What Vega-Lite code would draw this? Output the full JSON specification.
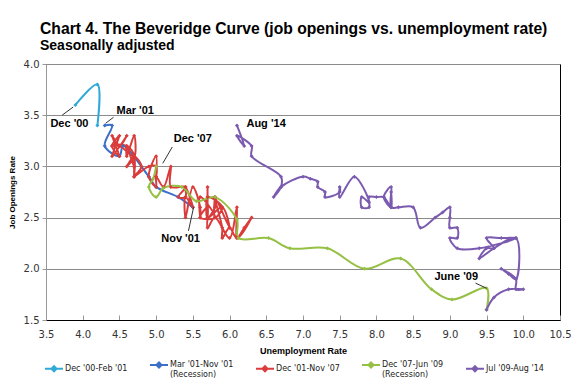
{
  "$schema": "https://vega.github.io/schema/vega-lite/v6.json",
  "width": 514,
  "height": 256,
  "autosize": {"type": "none"},
  "padding": {"left": 46, "top": 64, "right": 15, "bottom": 71},
  "background": "white",
  "title": {
    "text": "Chart 4. The Beveridge Curve (job openings vs. unemployment rate)",
    "subtitle": "Seasonally adjusted",
    "anchor": "start",
    "frame": "group",
    "font": "Liberation Sans",
    "fontSize": 15.7,
    "fontWeight": "bold",
    "color": "#000",
    "subtitleFont": "Liberation Sans",
    "subtitleFontSize": 14,
    "subtitleFontWeight": "bold",
    "subtitleColor": "#000",
    "subtitlePadding": 1,
    "dx": -6,
    "offset": 5
  },
  "config": {
    "view": {"stroke": "#000", "strokeWidth": 1}
  },
  "datasets": {
    "jolts": [
      {"s": "Dec '00-Feb '01", "i": 1, "u": 3.9, "j": 3.6},
      {"s": "Dec '00-Feb '01", "i": 2, "u": 4.2, "j": 3.8},
      {"s": "Dec '00-Feb '01", "i": 3, "u": 4.2, "j": 3.4},
      {"s": "Mar '01-Nov '01", "i": 4, "u": 4.3, "j": 3.4},
      {"s": "Mar '01-Nov '01", "i": 5, "u": 4.4, "j": 3.4},
      {"s": "Mar '01-Nov '01", "i": 6, "u": 4.3, "j": 3.2},
      {"s": "Mar '01-Nov '01", "i": 7, "u": 4.5, "j": 3.1},
      {"s": "Mar '01-Nov '01", "i": 8, "u": 4.55, "j": 3.2},
      {"s": "Mar '01-Nov '01", "i": 9, "u": 4.9, "j": 2.9},
      {"s": "Mar '01-Nov '01", "i": 10, "u": 5.0, "j": 2.8},
      {"s": "Mar '01-Nov '01", "i": 11, "u": 5.3, "j": 2.7},
      {"s": "Mar '01-Nov '01", "i": 12, "u": 5.5, "j": 2.6},
      {"s": "Dec '01-Nov '07", "i": 13, "u": 5.7, "j": 2.6},
      {"s": "Dec '01-Nov '07", "i": 14, "u": 5.7, "j": 2.8},
      {"s": "Dec '01-Nov '07", "i": 15, "u": 5.7, "j": 2.5},
      {"s": "Dec '01-Nov '07", "i": 16, "u": 5.7, "j": 2.7},
      {"s": "Dec '01-Nov '07", "i": 17, "u": 5.9, "j": 2.6},
      {"s": "Dec '01-Nov '07", "i": 18, "u": 5.8, "j": 2.5},
      {"s": "Dec '01-Nov '07", "i": 19, "u": 5.8, "j": 2.7},
      {"s": "Dec '01-Nov '07", "i": 20, "u": 5.8, "j": 2.6},
      {"s": "Dec '01-Nov '07", "i": 21, "u": 5.7, "j": 2.5},
      {"s": "Dec '01-Nov '07", "i": 22, "u": 5.7, "j": 2.7},
      {"s": "Dec '01-Nov '07", "i": 23, "u": 5.7, "j": 2.5},
      {"s": "Dec '01-Nov '07", "i": 24, "u": 5.9, "j": 2.6},
      {"s": "Dec '01-Nov '07", "i": 25, "u": 6.0, "j": 2.4},
      {"s": "Dec '01-Nov '07", "i": 26, "u": 5.8, "j": 2.7},
      {"s": "Dec '01-Nov '07", "i": 27, "u": 5.9, "j": 2.4},
      {"s": "Dec '01-Nov '07", "i": 28, "u": 5.9, "j": 2.3},
      {"s": "Dec '01-Nov '07", "i": 29, "u": 6.0, "j": 2.4},
      {"s": "Dec '01-Nov '07", "i": 30, "u": 6.1, "j": 2.3},
      {"s": "Dec '01-Nov '07", "i": 31, "u": 6.3, "j": 2.5},
      {"s": "Dec '01-Nov '07", "i": 32, "u": 6.2, "j": 2.4},
      {"s": "Dec '01-Nov '07", "i": 33, "u": 6.1, "j": 2.3},
      {"s": "Dec '01-Nov '07", "i": 34, "u": 6.1, "j": 2.6},
      {"s": "Dec '01-Nov '07", "i": 35, "u": 6.0, "j": 2.3},
      {"s": "Dec '01-Nov '07", "i": 36, "u": 5.8, "j": 2.5},
      {"s": "Dec '01-Nov '07", "i": 37, "u": 5.7, "j": 2.4},
      {"s": "Dec '01-Nov '07", "i": 38, "u": 5.7, "j": 2.6},
      {"s": "Dec '01-Nov '07", "i": 39, "u": 5.6, "j": 2.5},
      {"s": "Dec '01-Nov '07", "i": 40, "u": 5.8, "j": 2.5},
      {"s": "Dec '01-Nov '07", "i": 41, "u": 5.6, "j": 2.7},
      {"s": "Dec '01-Nov '07", "i": 42, "u": 5.6, "j": 2.5},
      {"s": "Dec '01-Nov '07", "i": 43, "u": 5.6, "j": 2.6},
      {"s": "Dec '01-Nov '07", "i": 44, "u": 5.5, "j": 2.8},
      {"s": "Dec '01-Nov '07", "i": 45, "u": 5.4, "j": 2.5},
      {"s": "Dec '01-Nov '07", "i": 46, "u": 5.4, "j": 2.7},
      {"s": "Dec '01-Nov '07", "i": 47, "u": 5.5, "j": 2.6},
      {"s": "Dec '01-Nov '07", "i": 48, "u": 5.4, "j": 2.8},
      {"s": "Dec '01-Nov '07", "i": 49, "u": 5.4, "j": 2.7},
      {"s": "Dec '01-Nov '07", "i": 50, "u": 5.3, "j": 2.7},
      {"s": "Dec '01-Nov '07", "i": 51, "u": 5.4, "j": 2.8},
      {"s": "Dec '01-Nov '07", "i": 52, "u": 5.2, "j": 2.8},
      {"s": "Dec '01-Nov '07", "i": 53, "u": 5.2, "j": 3.0},
      {"s": "Dec '01-Nov '07", "i": 54, "u": 5.1, "j": 2.8},
      {"s": "Dec '01-Nov '07", "i": 55, "u": 5.0, "j": 2.9},
      {"s": "Dec '01-Nov '07", "i": 56, "u": 5.0, "j": 2.8},
      {"s": "Dec '01-Nov '07", "i": 57, "u": 4.9, "j": 2.9},
      {"s": "Dec '01-Nov '07", "i": 58, "u": 5.0, "j": 3.1},
      {"s": "Dec '01-Nov '07", "i": 59, "u": 5.0, "j": 2.9},
      {"s": "Dec '01-Nov '07", "i": 60, "u": 5.0, "j": 3.0},
      {"s": "Dec '01-Nov '07", "i": 61, "u": 4.9, "j": 3.0},
      {"s": "Dec '01-Nov '07", "i": 62, "u": 4.7, "j": 2.9},
      {"s": "Dec '01-Nov '07", "i": 63, "u": 4.8, "j": 3.0},
      {"s": "Dec '01-Nov '07", "i": 64, "u": 4.7, "j": 3.1},
      {"s": "Dec '01-Nov '07", "i": 65, "u": 4.7, "j": 3.0},
      {"s": "Dec '01-Nov '07", "i": 66, "u": 4.6, "j": 3.2},
      {"s": "Dec '01-Nov '07", "i": 67, "u": 4.6, "j": 3.1},
      {"s": "Dec '01-Nov '07", "i": 68, "u": 4.7, "j": 3.3},
      {"s": "Dec '01-Nov '07", "i": 69, "u": 4.7, "j": 3.1},
      {"s": "Dec '01-Nov '07", "i": 70, "u": 4.5, "j": 3.2},
      {"s": "Dec '01-Nov '07", "i": 71, "u": 4.4, "j": 3.2},
      {"s": "Dec '01-Nov '07", "i": 72, "u": 4.5, "j": 3.3},
      {"s": "Dec '01-Nov '07", "i": 73, "u": 4.4, "j": 3.1},
      {"s": "Dec '01-Nov '07", "i": 74, "u": 4.6, "j": 3.3},
      {"s": "Dec '01-Nov '07", "i": 75, "u": 4.5, "j": 3.2},
      {"s": "Dec '01-Nov '07", "i": 76, "u": 4.4, "j": 3.3},
      {"s": "Dec '01-Nov '07", "i": 77, "u": 4.5, "j": 3.1},
      {"s": "Dec '01-Nov '07", "i": 78, "u": 4.4, "j": 3.2},
      {"s": "Dec '01-Nov '07", "i": 79, "u": 4.6, "j": 3.2},
      {"s": "Dec '01-Nov '07", "i": 80, "u": 4.7, "j": 3.1},
      {"s": "Dec '01-Nov '07", "i": 81, "u": 4.6, "j": 3.0},
      {"s": "Dec '01-Nov '07", "i": 82, "u": 4.7, "j": 3.1},
      {"s": "Dec '01-Nov '07", "i": 83, "u": 4.7, "j": 2.9},
      {"s": "Dec '01-Nov '07", "i": 84, "u": 4.7, "j": 3.0},
      {"s": "Dec '07-Jun '09", "i": 85, "u": 5.0, "j": 3.0},
      {"s": "Dec '07-Jun '09", "i": 86, "u": 4.96, "j": 2.88},
      {"s": "Dec '07-Jun '09", "i": 87, "u": 4.9, "j": 2.8},
      {"s": "Dec '07-Jun '09", "i": 88, "u": 5.0, "j": 2.7},
      {"s": "Dec '07-Jun '09", "i": 89, "u": 5.1, "j": 2.79},
      {"s": "Dec '07-Jun '09", "i": 90, "u": 5.35, "j": 2.8},
      {"s": "Dec '07-Jun '09", "i": 91, "u": 5.55, "j": 2.66},
      {"s": "Dec '07-Jun '09", "i": 92, "u": 5.8, "j": 2.7},
      {"s": "Dec '07-Jun '09", "i": 93, "u": 6.1, "j": 2.48},
      {"s": "Dec '07-Jun '09", "i": 94, "u": 6.12, "j": 2.3},
      {"s": "Dec '07-Jun '09", "i": 95, "u": 6.53, "j": 2.3},
      {"s": "Dec '07-Jun '09", "i": 96, "u": 6.82, "j": 2.2},
      {"s": "Dec '07-Jun '09", "i": 97, "u": 7.33, "j": 2.2},
      {"s": "Dec '07-Jun '09", "i": 98, "u": 7.84, "j": 2.0},
      {"s": "Dec '07-Jun '09", "i": 99, "u": 8.33, "j": 2.1},
      {"s": "Dec '07-Jun '09", "i": 100, "u": 8.75, "j": 1.8},
      {"s": "Dec '07-Jun '09", "i": 101, "u": 9.03, "j": 1.7},
      {"s": "Dec '07-Jun '09", "i": 102, "u": 9.5, "j": 1.81},
      {"s": "Dec '07-Jun '09", "i": 103, "u": 9.5, "j": 1.6},
      {"s": "Jul '09-Aug '14", "i": 104, "u": 9.5, "j": 1.6},
      {"s": "Jul '09-Aug '14", "i": 105, "u": 9.6, "j": 1.72},
      {"s": "Jul '09-Aug '14", "i": 106, "u": 9.8, "j": 1.8},
      {"s": "Jul '09-Aug '14", "i": 107, "u": 10.0, "j": 1.8},
      {"s": "Jul '09-Aug '14", "i": 108, "u": 9.9, "j": 1.8},
      {"s": "Jul '09-Aug '14", "i": 109, "u": 9.9, "j": 1.9},
      {"s": "Jul '09-Aug '14", "i": 110, "u": 9.7, "j": 2.0},
      {"s": "Jul '09-Aug '14", "i": 111, "u": 9.8, "j": 1.95},
      {"s": "Jul '09-Aug '14", "i": 112, "u": 9.9, "j": 1.9},
      {"s": "Jul '09-Aug '14", "i": 113, "u": 9.9, "j": 2.3},
      {"s": "Jul '09-Aug '14", "i": 114, "u": 9.6, "j": 2.2},
      {"s": "Jul '09-Aug '14", "i": 115, "u": 9.4, "j": 2.1},
      {"s": "Jul '09-Aug '14", "i": 116, "u": 9.5, "j": 2.2},
      {"s": "Jul '09-Aug '14", "i": 117, "u": 9.6, "j": 2.2},
      {"s": "Jul '09-Aug '14", "i": 118, "u": 9.5, "j": 2.3},
      {"s": "Jul '09-Aug '14", "i": 119, "u": 9.7, "j": 2.3},
      {"s": "Jul '09-Aug '14", "i": 120, "u": 9.9, "j": 2.3},
      {"s": "Jul '09-Aug '14", "i": 121, "u": 9.4, "j": 2.2},
      {"s": "Jul '09-Aug '14", "i": 122, "u": 9.1, "j": 2.2},
      {"s": "Jul '09-Aug '14", "i": 123, "u": 9.0, "j": 2.3},
      {"s": "Jul '09-Aug '14", "i": 124, "u": 9.1, "j": 2.3},
      {"s": "Jul '09-Aug '14", "i": 125, "u": 9.1, "j": 2.4},
      {"s": "Jul '09-Aug '14", "i": 126, "u": 9.0, "j": 2.4},
      {"s": "Jul '09-Aug '14", "i": 127, "u": 9.0, "j": 2.5},
      {"s": "Jul '09-Aug '14", "i": 128, "u": 9.0, "j": 2.6},
      {"s": "Jul '09-Aug '14", "i": 129, "u": 8.9, "j": 2.55},
      {"s": "Jul '09-Aug '14", "i": 130, "u": 8.8, "j": 2.5},
      {"s": "Jul '09-Aug '14", "i": 131, "u": 8.6, "j": 2.4},
      {"s": "Jul '09-Aug '14", "i": 132, "u": 8.5, "j": 2.6},
      {"s": "Jul '09-Aug '14", "i": 133, "u": 8.3, "j": 2.6},
      {"s": "Jul '09-Aug '14", "i": 134, "u": 8.2, "j": 2.6},
      {"s": "Jul '09-Aug '14", "i": 135, "u": 8.2, "j": 2.8},
      {"s": "Jul '09-Aug '14", "i": 136, "u": 8.1, "j": 2.7},
      {"s": "Jul '09-Aug '14", "i": 137, "u": 8.2, "j": 2.6},
      {"s": "Jul '09-Aug '14", "i": 138, "u": 8.2, "j": 2.75},
      {"s": "Jul '09-Aug '14", "i": 139, "u": 8.2, "j": 2.6},
      {"s": "Jul '09-Aug '14", "i": 140, "u": 8.1, "j": 2.7},
      {"s": "Jul '09-Aug '14", "i": 141, "u": 8.0, "j": 2.7},
      {"s": "Jul '09-Aug '14", "i": 142, "u": 7.9, "j": 2.7},
      {"s": "Jul '09-Aug '14", "i": 143, "u": 7.9, "j": 2.6},
      {"s": "Jul '09-Aug '14", "i": 144, "u": 7.8, "j": 2.6},
      {"s": "Jul '09-Aug '14", "i": 145, "u": 7.8, "j": 2.7},
      {"s": "Jul '09-Aug '14", "i": 146, "u": 7.9, "j": 2.65},
      {"s": "Jul '09-Aug '14", "i": 147, "u": 7.7, "j": 2.9},
      {"s": "Jul '09-Aug '14", "i": 148, "u": 7.5, "j": 2.7},
      {"s": "Jul '09-Aug '14", "i": 149, "u": 7.5, "j": 2.8},
      {"s": "Jul '09-Aug '14", "i": 150, "u": 7.5, "j": 2.75},
      {"s": "Jul '09-Aug '14", "i": 151, "u": 7.3, "j": 2.7},
      {"s": "Jul '09-Aug '14", "i": 152, "u": 7.3, "j": 2.75},
      {"s": "Jul '09-Aug '14", "i": 153, "u": 7.2, "j": 2.8},
      {"s": "Jul '09-Aug '14", "i": 154, "u": 7.2, "j": 2.85},
      {"s": "Jul '09-Aug '14", "i": 155, "u": 7.1, "j": 2.88},
      {"s": "Jul '09-Aug '14", "i": 156, "u": 7.0, "j": 2.9},
      {"s": "Jul '09-Aug '14", "i": 157, "u": 6.7, "j": 2.8},
      {"s": "Jul '09-Aug '14", "i": 158, "u": 6.6, "j": 2.7},
      {"s": "Jul '09-Aug '14", "i": 159, "u": 6.7, "j": 2.8},
      {"s": "Jul '09-Aug '14", "i": 160, "u": 6.7, "j": 2.9},
      {"s": "Jul '09-Aug '14", "i": 161, "u": 6.3, "j": 3.1},
      {"s": "Jul '09-Aug '14", "i": 162, "u": 6.3, "j": 3.2},
      {"s": "Jul '09-Aug '14", "i": 163, "u": 6.1, "j": 3.3},
      {"s": "Jul '09-Aug '14", "i": 164, "u": 6.2, "j": 3.2},
      {"s": "Jul '09-Aug '14", "i": 165, "u": 6.1, "j": 3.4}
    ],
    "notes": [
      {"t": "Dec '00", "u": 3.56, "j": 3.41},
      {"t": "Mar '01", "u": 4.46, "j": 3.54},
      {"t": "Dec '07", "u": 5.24, "j": 3.27},
      {"t": "Nov '01", "u": 5.07, "j": 2.29},
      {"t": "Aug '14", "u": 6.23, "j": 3.41},
      {"t": "June '09", "u": 8.79, "j": 1.92}
    ],
    "leaders": [
      {"u": 3.72, "j": 3.5, "u2": 3.87, "j2": 3.58},
      {"u": 4.31, "j": 3.42, "u2": 4.42, "j2": 3.48},
      {"u": 5.09, "j": 3.03, "u2": 5.22, "j2": 3.19},
      {"u": 5.44, "j": 2.37, "u2": 5.51, "j2": 2.6},
      {"u": 9.35, "j": 1.86, "u2": 9.5, "j2": 1.81}
    ]
  },
  "encoding": {
    "x": {
      "field": "u",
      "type": "quantitative",
      "scale": {"domain": [3.5, 10.5], "nice": false, "zero": false},
      "axis": {
        "title": "Unemployment Rate",
        "values": [3.5, 4, 4.5, 5, 5.5, 6, 6.5, 7, 7.5, 8, 8.5, 9, 9.5, 10, 10.5],
        "format": ".1f",
        "grid": false,
        "labelOverlap": false,
        "domainColor": "#000",
        "tickColor": "#999",
        "tickSize": -5,
        "labelPadding": 14,
        "labelFont": "DejaVu Sans",
        "labelFontSize": 10,
        "labelColor": "#333",
        "labelFlush": false,
        "titleFont": "Liberation Sans",
        "titleFontSize": 9,
        "titleFontWeight": "bold",
        "titleColor": "#000",
        "titlePadding": 7
      }
    },
    "y": {
      "field": "j",
      "type": "quantitative",
      "scale": {"domain": [1.5, 4.0], "nice": false, "zero": false},
      "axis": {
        "title": "Job Openings Rate",
        "values": [1.5, 2, 2.5, 3, 3.5, 4],
        "format": ".1f",
        "grid": true,
        "labelOverlap": false,
        "gridColor": "#8a8a8a",
        "domainColor": "#999",
        "tickColor": "#999",
        "tickSize": 4,
        "labelPadding": 3,
        "labelFont": "DejaVu Sans",
        "labelFontSize": 10,
        "labelColor": "#333",
        "labelFlush": false,
        "titleFont": "Liberation Sans",
        "titleFontSize": 8,
        "titleFontWeight": "bold",
        "titleColor": "#000",
        "titlePadding": 7
      }
    }
  },
  "layer": [
    {
      "data": {"name": "jolts"},
      "mark": {
        "type": "line",
        "interpolate": "catmull-rom",
        "strokeWidth": 2,
        "point": {"filled": true, "shape": "diamond", "size": 16}
      },
      "encoding": {
        "color": {
          "field": "s",
          "type": "nominal",
          "scale": {
            "domain": ["Dec '00-Feb '01", "Mar '01-Nov '01", "Dec '01-Nov '07", "Dec '07-Jun '09", "Jul '09-Aug '14"],
            "range": ["#31A9D6", "#3B6FC8", "#DA3B3B", "#95C044", "#7B5BAF"]
          },
          "legend": {
            "title": null,
            "orient": "none",
            "legendX": -2,
            "legendY": 287,
            "direction": "horizontal",
            "columns": 5,
            "columnPadding": 18,
            "symbolType": "M-1,0.45L1,0.45M-0.28,0.45L0,0.17L0.28,0.45L0,0.73Z",
            "symbolSize": 324,
            "symbolStrokeWidth": 2,
            "labelFont": "DejaVu Sans",
            "labelFontSize": 8,
            "labelColor": "#222",
            "labelOffset": 1,
            "labelBaseline": "top",
            "labelLimit": 200,
            "labelExpr": "datum.label == \"Mar '01-Nov '01\" || datum.label == \"Dec '07-Jun '09\" ? [datum.label, '(Recession)'] : datum.label"
          }
        },
        "order": {"field": "i", "type": "quantitative"}
      }
    },
    {
      "data": {"name": "leaders"},
      "mark": {"type": "rule", "color": "#333", "strokeWidth": 1},
      "encoding": {
        "x2": {"field": "u2"},
        "y2": {"field": "j2"}
      }
    },
    {
      "data": {"name": "notes"},
      "mark": {"type": "text", "align": "left", "baseline": "middle", "font": "Liberation Sans", "fontSize": 11, "fontWeight": "bold", "color": "#000"},
      "encoding": {
        "text": {"field": "t"}
      }
    }
  ]
}
